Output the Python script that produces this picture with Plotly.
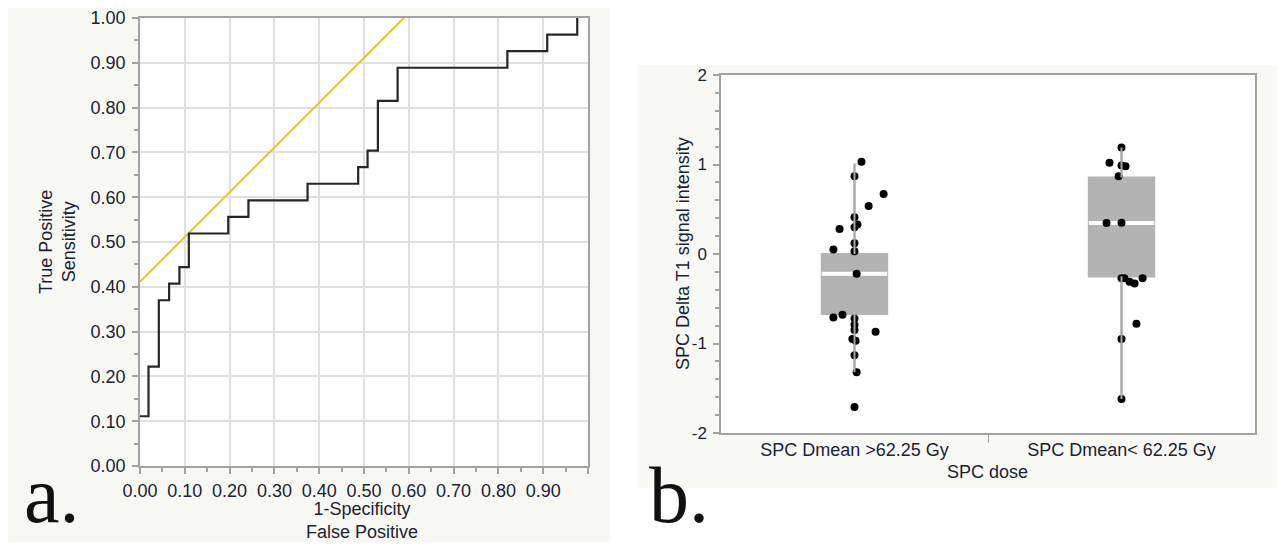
import plotly.graph_objects as go

# ---------------- data ----------------
# Panel a: ROC curve step vertices (1-Specificity, Sensitivity)
roc_fpr = [0.000, 0.019, 0.042, 0.065, 0.088, 0.109, 0.197, 0.242, 0.374,
           0.487, 0.508, 0.531, 0.575, 0.820, 0.909, 0.976]
roc_tpr = [0.111, 0.222, 0.370, 0.407, 0.444, 0.519, 0.556, 0.593, 0.630,
           0.667, 0.704, 0.815, 0.889, 0.926, 0.963, 1.000]
# tangent (Youden) line
tan_x = [0.000, 0.589]
tan_y = [0.411, 1.000]
roc_ticks = [0.0, 0.1, 0.2, 0.3, 0.4, 0.5, 0.6, 0.7, 0.8, 0.9, 1.0]
roc_xticktext = ["0.00", "0.10", "0.20", "0.30", "0.40", "0.50", "0.60",
                 "0.70", "0.80", "0.90", ""]
roc_yticktext = ["0.00", "0.10", "0.20", "0.30", "0.40", "0.50", "0.60",
                 "0.70", "0.80", "0.90", "1.00"]

# Panel b: box plot summaries
groups = ["SPC Dmean >62.25 Gy", "SPC Dmean< 62.25 Gy"]
box_q1 = [-0.67, -0.25]
box_median = [-0.22, 0.345]
box_q3 = [0.00, 0.855]
box_low = [-1.32, -1.62]
box_high = [1.01, 1.19]

# Individual observations
g1_vals = [1.03, 0.87, 0.67, 0.535, 0.41, 0.33, 0.30, 0.28, 0.12, 0.05, 0.03,
           -0.22, -0.68, -0.71, -0.72, -0.79, -0.85, -0.87, -0.95, -0.97,
           -1.13, -1.32, -1.71]
g1_jit = [0.026, 0.0, 0.109, 0.053, 0.0, 0.011, 0.0, -0.056, 0.0, -0.079, 0.0,
          0.008, -0.045, -0.079, 0.0, 0.0, 0.0, 0.079, -0.008, 0.004,
          0.0, 0.008, 0.0]
g2_vals = [1.19, 1.02, 0.99, 0.98, 0.87, 0.345, 0.35, -0.27, -0.27, -0.31,
           -0.33, -0.27, -0.78, -0.95, -1.62]
g2_jit = [0.0, -0.045, 0.0, 0.015, -0.011, -0.056, 0.0, 0.0, 0.011, 0.03,
          0.049, 0.079, 0.056, 0.0, 0.0]

# ---------------- figure ----------------
W, H = 1285, 546
OFF = 8  # page body margin compensation


def px(x):
    return (x - OFF) / W


def py(y):
    return 1 - (y - OFF) / H


TXT = "#1c2233"
AX = "#a3a3a3"
FONT = "Liberation Sans"

fig = go.Figure()

# ROC curve
fig.add_trace(go.Scatter(x=tan_x, y=tan_y, mode="lines",
                         line=dict(color="#d6ca3a", width=2),
                         xaxis="x", yaxis="y", hoverinfo="skip"))
fig.add_trace(go.Scatter(x=roc_fpr, y=roc_tpr, mode="lines",
                         line=dict(color="#262626", width=2.2, shape="hv"),
                         xaxis="x", yaxis="y"))

# Box plots
box_w = 0.245
for i in range(2):
    fig.add_trace(go.Box(x=[i], q1=[box_q1[i]], median=[box_median[i]],
                         q3=[box_q3[i]], lowerfence=[box_low[i]],
                         upperfence=[box_high[i]], width=box_w,
                         whiskerwidth=0, fillcolor="#b3b3b3",
                         line=dict(color="#b3b3b3", width=2),
                         boxpoints=False, xaxis="x2", yaxis="y2"))
    # white median gap
    fig.add_trace(go.Scatter(x=[i - box_w / 2, i + box_w / 2],
                             y=[box_median[i], box_median[i]], mode="lines",
                             line=dict(color="white", width=4),
                             xaxis="x2", yaxis="y2", hoverinfo="skip"))

# points
fig.add_trace(go.Scatter(x=[0 + j for j in g1_jit], y=g1_vals, mode="markers",
                         marker=dict(color="black", size=8),
                         xaxis="x2", yaxis="y2"))
fig.add_trace(go.Scatter(x=[1 + j for j in g2_jit], y=g2_vals, mode="markers",
                         marker=dict(color="black", size=8),
                         xaxis="x2", yaxis="y2"))

# whiskers drawn over the points
for i in range(2):
    fig.add_trace(go.Scatter(x=[i, i, None, i, i],
                             y=[box_low[i], box_q1[i], None, box_q3[i], box_high[i]],
                             mode="lines", line=dict(color="#aaaaaa", width=2),
                             xaxis="x2", yaxis="y2", hoverinfo="skip"))

# panel backgrounds
shapes = [
    dict(type="rect", xref="paper", yref="paper", x0=px(5), x1=px(610),
         y0=py(542), y1=py(5), fillcolor="#f8f8f4", line_width=0, layer="below"),
    dict(type="rect", xref="paper", yref="paper", x0=px(637), x1=px(1280),
         y0=py(488), y1=py(65), fillcolor="#f9f9f6", line_width=0, layer="below"),
    dict(type="rect", xref="paper", yref="paper", x0=px(140), x1=px(588),
         y0=py(466), y1=py(18), fillcolor="white", line_width=0, layer="below"),
    dict(type="rect", xref="paper", yref="paper", x0=px(721), x1=px(1255),
         y0=py(433), y1=py(75), fillcolor="white", line_width=0, layer="below"),
]


def ann(text, x, y, size, angle=0, family=FONT, color=TXT, xa="center", ya="middle"):
    return dict(text=text, x=px(x), y=py(y), xref="paper", yref="paper",
                xanchor=xa, yanchor=ya, textangle=angle, showarrow=False,
                font=dict(family=family, size=size, color=color))


annotations = [
    ann("True Positive<br>Sensitivity", 57, 242, 18, angle=-90),
    ann("1-Specificity<br>False Positive", 362, 520, 18),
    ann("SPC Delta T1 signal intensity", 683, 254, 18, angle=-90),
    ann("SPC dose", 988, 472, 18),
    ann("a.", 22, 522, 80, family="Liberation Serif", color="#111111",
        xa="left", ya="middle"),
    ann("b.", 647, 522, 80, family="Liberation Serif", color="#111111",
        xa="left", ya="middle"),
]
# shift big letters so baseline sits near y=522
annotations[4]["yshift"] = 27
annotations[5]["yshift"] = 27

common = dict(automargin=False, fixedrange=True, zeroline=False,
              showline=True, linecolor=AX, linewidth=1.5, mirror=True)

fig.update_layout(
    template="none",
    width=W, height=H, autosize=False,
    margin=dict(l=0, r=0, t=0, b=0, pad=0),
    paper_bgcolor="white", plot_bgcolor="rgba(0,0,0,0)",
    showlegend=False, shapes=shapes, annotations=annotations,
    font=dict(family=FONT, color=TXT),
    xaxis=dict(domain=[px(140), px(588)], range=[0, 1], anchor="y",
               tickvals=roc_ticks, ticktext=roc_xticktext,
               showgrid=True, gridcolor="#e0e0e0", gridwidth=1.5,
               ticks="outside", ticklen=6, tickcolor=AX, tickwidth=1.5,
               ticklabelstandoff=2,
               minor=dict(dtick=0.05, ticks="outside", ticklen=4,
                          tickcolor=AX, showgrid=False),
               tickfont=dict(family=FONT, size=18, color=TXT), **common),
    yaxis=dict(domain=[py(466), py(18)], range=[0, 1], anchor="x",
               tickvals=roc_ticks, ticktext=roc_yticktext,
               showgrid=True, gridcolor="#e0e0e0", gridwidth=1.5,
               ticks="outside", ticklen=6, tickcolor=AX, tickwidth=1.5,
               ticklabelstandoff=3,
               minor=dict(dtick=0.05, ticks="outside", ticklen=4,
                          tickcolor=AX, showgrid=False),
               tickfont=dict(family=FONT, size=18, color=TXT), **common),
    xaxis2=dict(domain=[px(721), px(1255)], range=[-0.5, 1.5], anchor="y2",
                tickvals=[0, 1], ticktext=groups, ticks="",
                showgrid=False, ticklabelstandoff=0,
                minor=dict(tickvals=[0.5], ticks="outside", ticklen=8,
                           tickcolor=AX, showgrid=False),
                tickfont=dict(family=FONT, size=18, color=TXT), **common),
    yaxis2=dict(domain=[py(433), py(75)], range=[-2, 2], anchor="x2",
                tickvals=[-2, -1, 0, 1, 2], ticktext=["-2", "-1", "0", "1", "2"],
                ticks="outside", ticklen=6, tickcolor=AX, tickwidth=1.5,
                showgrid=False, ticklabelstandoff=3,
                minor=dict(dtick=0.2, ticks="outside", ticklen=4,
                           tickcolor=AX, showgrid=False),
                tickfont=dict(family=FONT, size=17, color=TXT), **common),
)

fig.write_html("out.html")
